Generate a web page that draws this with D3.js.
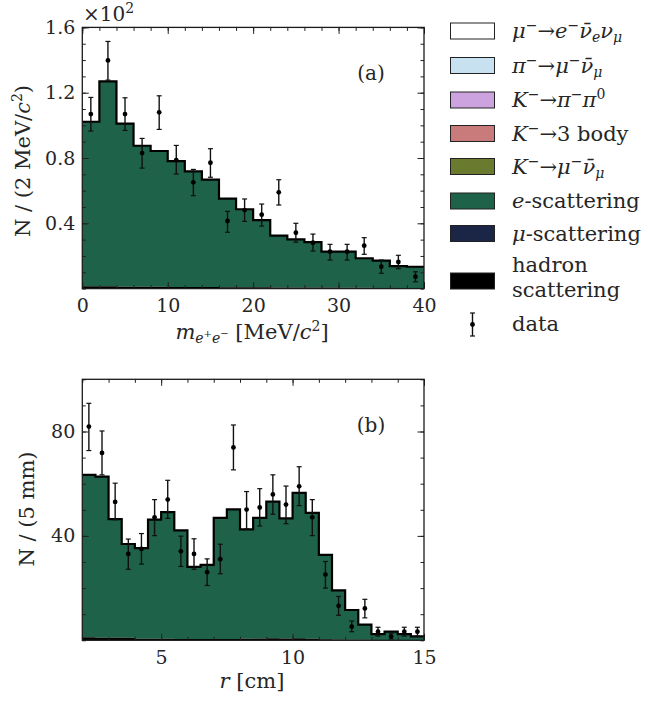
<!DOCTYPE html>
<html>
<head>
<meta charset="utf-8">
<script src="https://cdn.jsdelivr.net/npm/d3@7"></script>
<style>
  body { margin: 0; background: #fff; }
  svg { display: block; }
  text { font-family: "DejaVu Serif", serif; fill: #262626; }
</style>
</head>
<body>
<svg id="chart" width="648" height="702"></svg>
<script>
'use strict';

// ---- panel (a): invariant mass, bins of 2 MeV/c^2, values in units of 10^2
const massEdges = [0, 2, 4, 6, 8, 10, 12, 14, 16, 18, 20, 22, 24, 26, 28, 30, 32, 34, 36, 38, 40];
const massHadron = [0.014, 0.014, 0.012, 0.012, 0.012, 0.010, 0.010, 0.010, 0.008, 0.008,
  0.008, 0.007, 0.007, 0.006, 0.006, 0.005, 0.005, 0.004, 0.004, 0.004];
const massEScat = [1.008, 1.255, 0.998, 0.863, 0.831, 0.771, 0.708, 0.657, 0.543, 0.478,
  0.412, 0.317, 0.295, 0.279, 0.220, 0.221, 0.181, 0.167, 0.134, 0.130];
const massDataX = [1, 3, 5, 7, 9, 11, 13, 15, 17, 19, 21, 23, 25, 27, 29, 31, 33, 35, 37, 39];
const massData = [1.069, 1.398, 1.069, 0.830, 1.080, 0.787, 0.651, 0.771, 0.414, 0.481,
  0.453, 0.590, 0.342, 0.281, 0.226, 0.226, 0.263, 0.134, 0.163, 0.073];
const massErrHi = [0.102, 0.116, 0.100, 0.090, 0.101, 0.090, 0.079, 0.086, 0.059, 0.068,
  0.065, 0.077, 0.058, 0.053, 0.045, 0.045, 0.049, 0.041, 0.041, 0.030];
const massErrLo = [0.104, 0.121, 0.100, 0.092, 0.105, 0.085, 0.082, 0.089, 0.069, 0.069,
  0.070, 0.078, 0.058, 0.051, 0.051, 0.051, 0.053, 0.040, 0.041, 0.031];
const massMajorTicksX = [0, 10, 20, 30, 40];
const massMajorTicksY = [0.4, 0.8, 1.2, 1.6];

// ---- panel (b): radius, bins of 5 mm
const radEdges = [2, 2.5, 3, 3.5, 4, 4.5, 5, 5.5, 6, 6.5, 7, 7.5, 8, 8.5, 9, 9.5, 10,
  10.5, 11, 11.5, 12, 12.5, 13, 13.5, 14, 14.5, 15];
const radHadron = [1.2, 1.0, 1.0, 1.0, 0.6, 0.6, 0.6, 0.5, 0.5, 0.5, 0.5, 0.5, 0.6,
  0.7, 0.8, 0.7, 0.8, 0.6, 0.4, 0.3, 0.2, 0.2, 0.1, 0.1, 0.1, 0.1];
const radEScat = [62.2, 61.7, 45.4, 35.9, 34.7, 45.6, 48.5, 41.6, 27.6, 28.4, 46.4, 49.7, 41.9,
  46.2, 52.3, 46.0, 55.7, 48.2, 32.3, 18.8, 11.4, 5.8, 2.3, 3.2, 2.3, 1.4];
const radDataX = [2.25, 2.75, 3.25, 3.75, 4.25, 4.75, 5.25, 5.75, 6.25, 6.75, 7.25, 7.75, 8.25,
  8.75, 9.25, 9.75, 10.25, 10.75, 11.25, 11.75, 12.25, 12.75, 13.25, 13.75, 14.25, 14.75];
const radData = [81.9, 71.8, 53.0, 33.1, 35.0, 47.1, 53.9, 34.1, 33.1, 26.1, 31.1, 73.9, 50.1,
  50.9, 55.9, 52.0, 59.0, 47.1, 25.2, 13.2, 5.2, 12.2, 3.3, 1.5, 3.3, 3.3];
const radErrHi = [8.9, 8.4, 7.2, 5.7, 5.9, 6.8, 7.4, 5.8, 5.8, 5.1, 5.7, 8.6, 6.9,
  7.2, 7.5, 7.1, 7.5, 6.8, 5.0, 3.6, 2.2, 3.5, 1.7, 1.2, 1.7, 1.7];
const radErrLo = [9.2, 8.4, 6.8, 5.9, 5.8, 7.0, 7.2, 5.8, 5.9, 5.1, 5.6, 8.6, 7.4,
  7.1, 7.6, 7.3, 7.4, 7.0, 5.2, 3.6, 1.9, 3.6, 1.7, 1.0, 1.7, 1.7];
const radMajorTicksX = [5, 10, 15];
const radMajorTicksY = [40, 80];

// ---- legend
const legendKeys = ["mueNu", "piMuNu", "kPiPi", "k3body", "kMuNu", "eScat", "muScat", "hadron"];
const legendColors = ["#ffffff", "#c7e1f1", "#cda3df", "#c97b7b", "#6a7b30", "#1d6249", "#1b2545", "#000000"];

const svg = d3.select("#chart");
svg.append("rect").attr("width", 648).attr("height", 702).attr("fill", "#fff");

const colorHadron = legendColors[7];
const colorEScat = legendColors[5];

// rich text helper: parts = [[text, italic, shift, size]]
function richText(parent, x, y, parts, size, anchor) {
  let t = parent.append("text")
    .attr("x", x).attr("y", y)
    .attr("font-size", size)
    .attr("text-anchor", anchor || "start");
  let cur = 0;
  parts.forEach(function (p) {
    let shift = p[2] || 0;
    t.append("tspan")
      .attr("dy", shift - cur)
      .attr("font-style", p[1] ? "italic" : null)
      .attr("font-size", p[3] || null)
      .text(p[0]);
    cur = shift;
  });
  return t;
}

function drawPanel(opts) {
  let g = svg.append("g");
  let x = d3.scaleLinear().domain(opts.xDomain).range([opts.left, opts.right]);
  let y = d3.scaleLinear().domain(opts.yDomain).range([opts.bottom, opts.top]);

  let clipId = "clip-" + opts.name;
  svg.append("clipPath").attr("id", clipId).append("rect")
    .attr("x", opts.left).attr("y", opts.top)
    .attr("width", opts.right - opts.left).attr("height", opts.bottom - opts.top);

  // rows of the stack (one per bin + closing edge for the step curve)
  let rows = opts.edges.map(function (e, i) {
    let k = Math.min(i, opts.hadron.length - 1);
    return {edge: e, hadron: opts.hadron[k], eScat: opts.eScat[k]};
  });
  let stack = d3.stack().keys(["hadron", "eScat"])(rows);
  let colors = {hadron: colorHadron, eScat: colorEScat};

  let area = d3.area()
    .curve(d3.curveStepAfter)
    .x(function (d) { return x(d.data.edge); })
    .y0(function (d) { return y(d[0]); })
    .y1(function (d) { return y(d[1]); });

  let plot = g.append("g").attr("clip-path", "url(#" + clipId + ")");
  // eScat first then hadron on top so the thin strip stays visible
  plot.selectAll("path.layer")
    .data([stack[1], stack[0]])
    .enter().append("path")
    .attr("class", "layer")
    .attr("fill", function (d) { return colors[d.key]; })
    .attr("d", area);

  let outline = d3.line()
    .curve(d3.curveStepAfter)
    .x(function (d) { return x(d.edge); })
    .y(function (d) { return y(d.hadron + d.eScat); });
  plot.append("path")
    .attr("fill", "none")
    .attr("stroke", "#000")
    .attr("stroke-width", 2.2)
    .attr("d", outline(rows));

  // data points with error bars
  let pts = opts.dataX.map(function (v, i) {
    return {x: v, y: opts.data[i], hi: opts.errHi[i], lo: opts.errLo[i]};
  });
  let pg = g.selectAll("g.pt").data(pts).enter().append("g").attr("class", "pt");
  pg.append("line")
    .attr("x1", function (d) { return x(d.x); })
    .attr("x2", function (d) { return x(d.x); })
    .attr("y1", function (d) { return y(d.y - d.lo); })
    .attr("y2", function (d) { return y(d.y + d.hi); })
    .attr("stroke", "#111").attr("stroke-width", 1.4);
  ["lo", "hi"].forEach(function (side) {
    pg.append("line")
      .attr("x1", function (d) { return x(d.x) - 2.5; })
      .attr("x2", function (d) { return x(d.x) + 2.5; })
      .attr("y1", function (d) { return y(side === "lo" ? d.y - d.lo : d.y + d.hi); })
      .attr("y2", function (d) { return y(side === "lo" ? d.y - d.lo : d.y + d.hi); })
      .attr("stroke", "#111").attr("stroke-width", 1.2);
  });
  pg.append("circle")
    .attr("cx", function (d) { return x(d.x); })
    .attr("cy", function (d) { return y(d.y); })
    .attr("r", 2.4).attr("fill", "#000");

  // axes: inward ticks on all four sides
  let minorX = x.ticks(opts.minorXCount);
  let minorY = y.ticks(opts.minorYCount);
  let sides = [
    {make: d3.axisBottom, scale: x, tr: [0, opts.bottom], labels: true, dim: "x"},
    {make: d3.axisTop, scale: x, tr: [0, opts.top], labels: false, dim: "x"},
    {make: d3.axisLeft, scale: y, tr: [opts.left, 0], labels: true, dim: "y"},
    {make: d3.axisRight, scale: y, tr: [opts.right, 0], labels: false, dim: "y"}
  ];
  sides.forEach(function (a) {
    let minor = a.dim === "x" ? minorX : minorY;
    let major = a.dim === "x" ? opts.majorX : opts.majorY;
    let axMinor = a.make(a.scale).tickValues(minor).tickSize(-3.5).tickSizeOuter(0).tickFormat("");
    g.append("g").attr("transform", "translate(" + a.tr + ")").call(axMinor)
      .call(function (s) { s.select(".domain").remove(); })
      .selectAll("line").attr("stroke", "#222");
    let axMajor = a.make(a.scale).tickValues(major).tickSize(-6.5).tickSizeOuter(0)
      .tickPadding(a.dim === "x" ? 10 : 7)
      .tickFormat(a.labels ? opts[a.dim === "x" ? "fmtX" : "fmtY"] : "");
    let ag = g.append("g").attr("transform", "translate(" + a.tr + ")").call(axMajor);
    ag.select(".domain").remove();
    ag.selectAll("line").attr("stroke", "#222").attr("stroke-width", 1);
    ag.selectAll("text").attr("font-family", "DejaVu Serif").attr("font-size", 19).attr("fill", "#262626");
  });
  g.append("rect")
    .attr("x", opts.left).attr("y", opts.top)
    .attr("width", opts.right - opts.left).attr("height", opts.bottom - opts.top)
    .attr("fill", "none").attr("stroke", "#1a1a1a").attr("stroke-width", 1.3);

  g.append("text").attr("x", 371).attr("y", opts.top + 53)
    .attr("text-anchor", "middle").attr("font-size", 20).text(opts.tag);
  return g;
}

let gA = drawPanel({
  name: "a", left: 82.3, right: 424, top: 27.4, bottom: 288.6,
  xDomain: [0, 40], yDomain: [0, 1.6],
  edges: massEdges, hadron: massHadron, eScat: massEScat,
  dataX: massDataX, data: massData, errHi: massErrHi, errLo: massErrLo,
  majorX: massMajorTicksX, majorY: massMajorTicksY, minorXCount: 20, minorYCount: 16,
  fmtX: d3.format("d"), fmtY: d3.format(".1f"), tag: "(a)"
});

let gB = drawPanel({
  name: "b", left: 82.3, right: 424, top: 379.3, bottom: 640.3,
  xDomain: [2, 15], yDomain: [0, 100],
  edges: radEdges, hadron: radHadron, eScat: radEScat,
  dataX: radDataX, data: radData, errHi: radErrHi, errLo: radErrLo,
  majorX: radMajorTicksX, majorY: radMajorTicksY, minorXCount: 13, minorYCount: 10,
  fmtX: d3.format("d"), fmtY: d3.format("d"), tag: "(b)"
});

// multiplier and axis titles
richText(svg, 83, 21, [["\u00d710", false, 0], ["2", false, -8, 14]], 20, "start");

richText(svg, 0, 0, [["N / (2 MeV/", false, 0], ["c", true, 0], ["2", false, -8, 14], [")", false, 0]], 21, "middle")
  .attr("transform", "translate(30,161) rotate(-90)");
richText(svg, 0, 0, [["N / (5 mm)", false, 0]], 21, "middle")
  .attr("transform", "translate(34,509) rotate(-90)");

richText(svg, 252, 339, [
  ["m", true, 0], ["e", true, 4, 14], ["+", false, -2, 10], ["e", true, 4, 14], ["\u2212", false, -2, 10],
  [" [MeV/", false, 0], ["c", true, 0], ["2", false, -8, 14], ["]", false, 0]
], 21, "middle");
richText(svg, 252, 688, [["r", true, 0], [" [cm]", false, 0]], 21, "middle");

// legend
const legendLabels = [
  [["\u03bc", true, 0], ["\u2212", false, -8, 14], ["\u2192", false, 0], ["e", true, 0], ["\u2212", false, -8, 14],
   ["\u03bd\u0304", true, 0], ["e", true, 4, 14], ["\u03bd", true, 0], ["\u03bc", true, 4, 14]],
  [["\u03c0", true, 0], ["\u2212", false, -8, 14], ["\u2192", false, 0], ["\u03bc", true, 0], ["\u2212", false, -8, 14],
   ["\u03bd\u0304", true, 0], ["\u03bc", true, 4, 14]],
  [["K", true, 0], ["\u2212", false, -8, 14], ["\u2192", false, 0], ["\u03c0", true, 0], ["\u2212", false, -8, 14],
   ["\u03c0", true, 0], ["0", false, -8, 14]],
  [["K", true, 0], ["\u2212", false, -8, 14], ["\u2192", false, 0], ["3 body", false, 0]],
  [["K", true, 0], ["\u2212", false, -8, 14], ["\u2192", false, 0], ["\u03bc", true, 0], ["\u2212", false, -8, 14],
   ["\u03bd\u0304", true, 0], ["\u03bc", true, 4, 14]],
  [["e", true, 0], ["-scattering", false, 0]],
  [["\u03bc", true, 0], ["-scattering", false, 0]]
];
const legendRowY = [31, 65.5, 100, 133.5, 166.5, 201, 233.5, 281];

let lg = svg.append("g");
legendKeys.forEach(function (k, i) {
  lg.append("rect")
    .attr("x", 450.5).attr("y", legendRowY[i] - 8)
    .attr("width", 44).attr("height", 16)
    .attr("fill", legendColors[i])
    .attr("stroke", "#222").attr("stroke-width", 1);
  if (i < legendLabels.length) {
    richText(lg, 512, legendRowY[i] + 7, legendLabels[i], 21, "start");
  }
});
lg.append("text").attr("x", 512).attr("y", 272).attr("font-size", 21).text("hadron");
lg.append("text").attr("x", 512).attr("y", 297).attr("font-size", 21).text("scattering");

// data marker
let dm = lg.append("g");
dm.append("line").attr("x1", 472.5).attr("x2", 472.5).attr("y1", 313).attr("y2", 336)
  .attr("stroke", "#111").attr("stroke-width", 1.4);
[313, 336].forEach(function (yy) {
  dm.append("line").attr("x1", 470).attr("x2", 475).attr("y1", yy).attr("y2", yy)
    .attr("stroke", "#111").attr("stroke-width", 1.2);
});
dm.append("circle").attr("cx", 472.5).attr("cy", 324.5).attr("r", 2.4).attr("fill", "#000");
lg.append("text").attr("x", 512).attr("y", 331).attr("font-size", 21).text("data");
</script>
</body>
</html>
